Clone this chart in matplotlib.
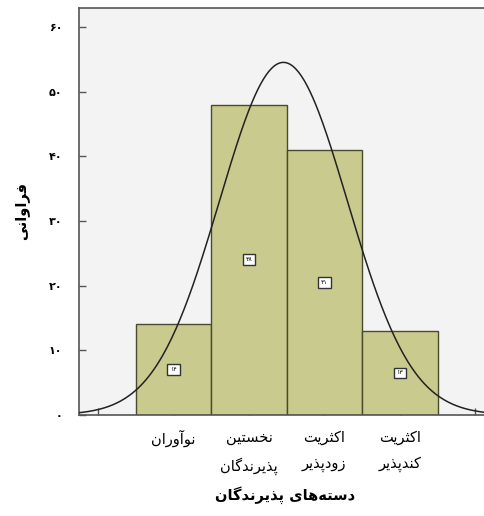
import numpy as np
import matplotlib.pyplot as plt

## Data
categories = ['نوآوران', 'نخستین\nپذیرندگان', 'اکثریت\nزودپذیر', 'اکثریت\nکندپذیر']
counts = [14, 48, 41, 13]
yticks = [0, 10, 20, 30, 40, 50, 60]
ylabel = 'فراوانی'
xlabel = 'دسته‌های پذیرندگان'

## Simple Persian shaping (matplotlib has no bidi / joining)
# letter: (isolated, final, initial, medial); two forms -> joins only on the right
FORMS = {
    'ا': (0xFE8D, 0xFE8E), 'آ': (0xFE81, 0xFE82),
    'ب': (0xFE8F, 0xFE90, 0xFE91, 0xFE92), 'پ': (0xFB56, 0xFB57, 0xFB58, 0xFB59),
    'ت': (0xFE95, 0xFE96, 0xFE97, 0xFE98), 'ث': (0xFE99, 0xFE9A, 0xFE9B, 0xFE9C),
    'ج': (0xFE9D, 0xFE9E, 0xFE9F, 0xFEA0), 'چ': (0xFB7A, 0xFB7B, 0xFB7C, 0xFB7D),
    'ح': (0xFEA1, 0xFEA2, 0xFEA3, 0xFEA4), 'خ': (0xFEA5, 0xFEA6, 0xFEA7, 0xFEA8),
    'د': (0xFEA9, 0xFEAA), 'ذ': (0xFEAB, 0xFEAC), 'ر': (0xFEAD, 0xFEAE),
    'ز': (0xFEAF, 0xFEB0), 'ژ': (0xFB8A, 0xFB8B),
    'س': (0xFEB1, 0xFEB2, 0xFEB3, 0xFEB4), 'ش': (0xFEB5, 0xFEB6, 0xFEB7, 0xFEB8),
    'ف': (0xFED1, 0xFED2, 0xFED3, 0xFED4), 'ق': (0xFED5, 0xFED6, 0xFED7, 0xFED8),
    'ک': (0xFB8E, 0xFB8F, 0xFB90, 0xFB91), 'گ': (0xFB92, 0xFB93, 0xFB94, 0xFB95),
    'ل': (0xFEDD, 0xFEDE, 0xFEDF, 0xFEE0), 'م': (0xFEE1, 0xFEE2, 0xFEE3, 0xFEE4),
    'ن': (0xFEE5, 0xFEE6, 0xFEE7, 0xFEE8), 'و': (0xFEED, 0xFEEE),
    'ه': (0xFEE9, 0xFEEA, 0xFEEB, 0xFEEC), 'ی': (0xFBFC, 0xFBFD, 0xFBFE, 0xFBFF),
}


def shape_line(s):
    out = []
    for i, c in enumerate(s):
        if c not in FORMS:
            out.append(c)
            continue
        f = FORMS[c]
        prev = s[i - 1] if i > 0 else ''
        nxt = s[i + 1] if i + 1 < len(s) else ''
        join_prev = prev in FORMS and len(FORMS[prev]) == 4
        join_next = len(f) == 4 and nxt in FORMS
        if join_prev and join_next:
            out.append(chr(f[3]))
        elif join_prev:
            out.append(chr(f[1]))
        elif join_next:
            out.append(chr(f[2]))
        else:
            out.append(chr(f[0]))
    return ''.join(out).replace('\u200c', '')[::-1]


def fa(s):
    return '\n'.join(shape_line(line) for line in s.split('\n'))


def fa_num(n):
    return str(n).translate(str.maketrans('0123456789', '۰۱۲۳۴۵۶۷۸۹'))


plt.rcParams['font.family'] = ['DejaVu Sans']

x = np.arange(1, len(counts) + 1)
n_total = sum(counts)
mean = np.sum(x * np.array(counts)) / n_total
sd = np.sqrt(np.sum(np.array(counts) * (x - mean) ** 2) / (n_total - 1))

fig = plt.figure(figsize=(4.84, 5.16), dpi=100)
ax = fig.add_axes([0.163, 0.196, 0.85, 0.789])
ax.set_facecolor('#f3f3f3')

ax.bar(x, counts, width=1.0, color='#c9ca8d', edgecolor='#4a4a2c', linewidth=1.0, zorder=2)
for xi, c in zip(x, counts):
    ax.text(xi, c / 2, fa_num(c), ha='center', va='center', fontsize=4.5, zorder=4,
            bbox=dict(boxstyle='square,pad=0.45', fc='white', ec='#333333', lw=1.0))

xs = np.linspace(-0.3, 5.3, 300)
curve = n_total / (sd * np.sqrt(2 * np.pi)) * np.exp(-0.5 * ((xs - mean) / sd) ** 2)
ax.plot(xs, curve, color='#222222', linewidth=1.1, zorder=3)

ax.set_xlim(-0.255, 5.2)
ax.set_ylim(0, 63)
ax.set_xticks(range(0, 6))
ax.set_xticklabels([''] + [fa(c) for c in categories] + [''], fontsize=10.5,
                   linespacing=1.9)
ax.set_yticks(yticks)
ax.set_yticklabels([fa_num(v) for v in yticks], fontsize=8, fontweight='bold')
ax.tick_params(direction='in', length=5, color='#555555', width=1.0)
ax.tick_params(axis='x', pad=11)
ax.tick_params(axis='y', pad=12)
for sp in ['left', 'bottom', 'top']:
    ax.spines[sp].set_color('#555555')
    ax.spines[sp].set_linewidth(1.2)
ax.spines['right'].set_visible(False)

ax.set_ylabel(fa(ylabel), fontsize=10.5, fontweight='bold', labelpad=14)
ax.set_xlabel(fa(xlabel), fontsize=10.5, fontweight='bold', labelpad=8)

fig.savefig('out.png', dpi=100)
